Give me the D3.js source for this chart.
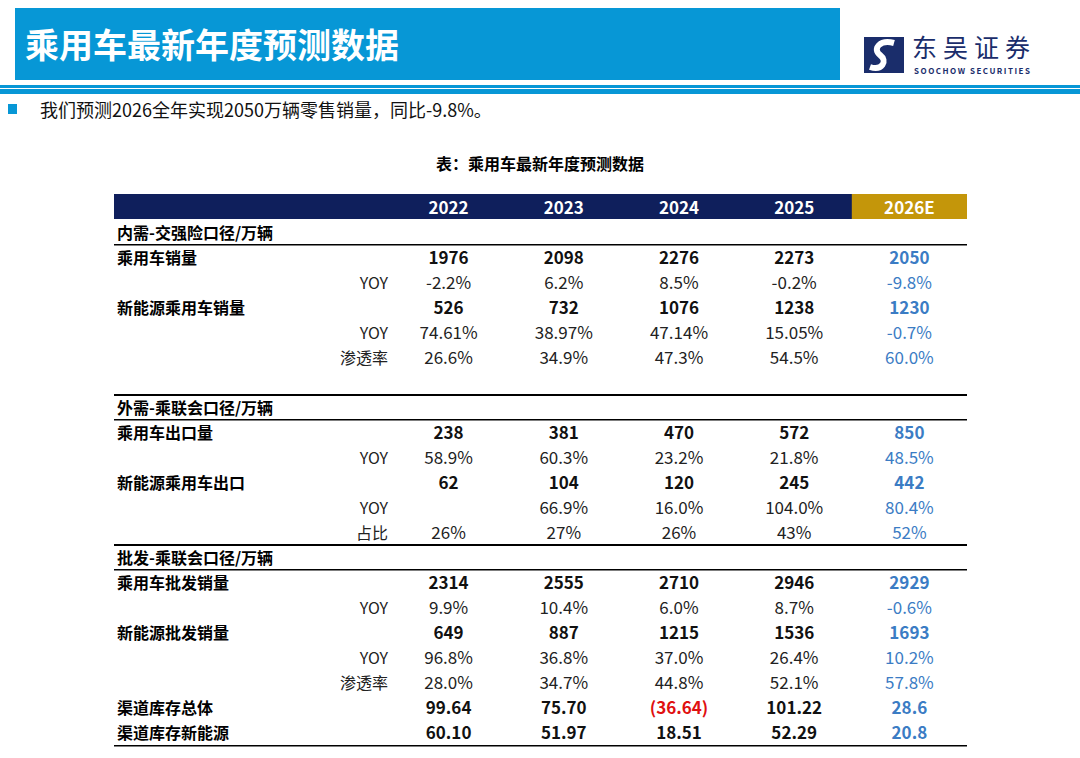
<!DOCTYPE html>
<meta charset="utf-8">
<script src="https://d3js.org/d3.v7.min.js"></script>
<body style="margin:0;background:#fff">
<div id="chart"></div>
<script>
// column headers
var years = ["2022", "2023", "2024", "2025", "2026E"];

// sections and rows: [label, sublabel, bold, values]
var domestic = [
  ["乘用车销量", "", true, ["1976", "2098", "2276", "2273", "2050"]],
  ["", "YOY", false, ["-2.2%", "6.2%", "8.5%", "-0.2%", "-9.8%"]],
  ["新能源乘用车销量", "", true, ["526", "732", "1076", "1238", "1230"]],
  ["", "YOY", false, ["74.61%", "38.97%", "47.14%", "15.05%", "-0.7%"]],
  ["", "渗透率", false, ["26.6%", "34.9%", "47.3%", "54.5%", "60.0%"]]
];
var exportRows = [
  ["乘用车出口量", "", true, ["238", "381", "470", "572", "850"]],
  ["", "YOY", false, ["58.9%", "60.3%", "23.2%", "21.8%", "48.5%"]],
  ["新能源乘用车出口", "", true, ["62", "104", "120", "245", "442"]],
  ["", "YOY", false, ["", "66.9%", "16.0%", "104.0%", "80.4%"]],
  ["", "占比", false, ["26%", "27%", "26%", "43%", "52%"]]
];
var wholesale = [
  ["乘用车批发销量", "", true, ["2314", "2555", "2710", "2946", "2929"]],
  ["", "YOY", false, ["9.9%", "10.4%", "6.0%", "8.7%", "-0.6%"]],
  ["新能源批发销量", "", true, ["649", "887", "1215", "1536", "1693"]],
  ["", "YOY", false, ["96.8%", "36.8%", "37.0%", "26.4%", "10.2%"]],
  ["", "渗透率", false, ["28.0%", "34.7%", "44.8%", "52.1%", "57.8%"]],
  ["渠道库存总体", "", true, ["99.64", "75.70", "(36.64)", "101.22", "28.6"]],
  ["渠道库存新能源", "", true, ["60.10", "51.97", "18.51", "52.29", "20.8"]]
];
var sections = [
  {title: "内需-交强险口径/万辆", rows: domestic, top: 221},
  {title: "外需-乘联会口径/万辆", rows: exportRows, top: 396},
  {title: "批发-乘联会口径/万辆", rows: wholesale, top: 546}
];

var W = 1080, H = 758, rowH = 25;
var svg = d3.select("#chart").append("svg").attr("width", W).attr("height", H)
  .style("font-family", "'Noto Sans CJK SC', 'Liberation Sans', sans-serif");

// header
svg.append("rect").attr("x", 15).attr("y", 8).attr("width", 825).attr("height", 72).attr("fill", "#0797d6");
svg.append("text").attr("x", 25).attr("y", 58).attr("fill", "#fff").attr("font-size", 34).attr("font-weight", 700).text("乘用车最新年度预测数据");
svg.append("rect").attr("x", 0).attr("y", 85).attr("width", W).attr("height", 3).attr("fill", "#0797d6");
svg.append("rect").attr("x", 0).attr("y", 89).attr("width", W).attr("height", 5).attr("fill", "#0797d6");

// logo
var lg = svg.append("g").attr("transform", "translate(864,37)");
lg.append("rect").attr("width", 40).attr("height", 36).attr("fill", "#1a2d6b");
lg.append("path").attr("d", "M30,6 C16,2 8,12 16,18 C24,24 18,34 6,30").attr("stroke", "#fff").attr("stroke-width", 6).attr("fill", "none");
lg.append("text").attr("x", 48).attr("y", 20).attr("font-size", 25).attr("fill", "#1a2d6b").attr("textLength", 118).text("东吴证券");
lg.append("text").attr("x", 50).attr("y", 37).attr("font-size", 8).attr("font-weight", 700).attr("fill", "#1a2d6b").attr("textLength", 116).text("SOOCHOW SECURITIES");

// bullet line
svg.append("rect").attr("x", 8).attr("y", 104).attr("width", 9).attr("height", 10).attr("fill", "#0797d6");
svg.append("text").attr("x", 40).attr("y", 117).attr("font-size", 18).attr("fill", "#111")
  .attr("font-family", "'Noto Sans CJK SC', 'Liberation Serif', serif").text("我们预测2026全年实现2050万辆零售销量，同比-9.8%。");

svg.append("text").attr("x", 540).attr("y", 170).attr("text-anchor", "middle").attr("font-size", 16).attr("font-weight", 700).text("表：乘用车最新年度预测数据");

// table
var x0 = 114, x1 = 967;
var x = d3.scaleBand().domain(years).range([391, 967]);
var hdrTop = 194;
svg.append("rect").attr("x", x0).attr("y", hdrTop).attr("width", x1 - x0).attr("height", 25).attr("fill", "#0f1f5c");
svg.append("rect").attr("x", x("2026E")).attr("y", hdrTop).attr("width", x.bandwidth()).attr("height", 25).attr("fill", "#c4960a");
svg.selectAll(".yr").data(years).join("text")
  .attr("x", d => x(d) + x.bandwidth() / 2).attr("y", hdrTop + 20)
  .attr("text-anchor", "middle").attr("font-size", 17).attr("font-weight", 700).attr("fill", "#fff").text(d => d);

sections.forEach(function(s, si) {
  var t = s.top;
  if (si > 0) {
    svg.append("rect").attr("x", x0).attr("y", t - 2).attr("width", x1 - x0).attr("height", 2).attr("fill", "#000");
  }
  svg.append("text").attr("x", x0 + 3).attr("y", t + 18).attr("font-size", 16).attr("font-weight", 700).text(s.title);
  svg.append("rect").attr("x", x0).attr("y", t + 23).attr("width", x1 - x0).attr("height", 1.5).attr("fill", "#000");
  var g = svg.append("g").attr("transform", "translate(0," + (t + 24) + ")");
  var rows = g.selectAll("g").data(s.rows).join("g").attr("transform", (d, i) => "translate(0," + (i * rowH) + ")");
  rows.append("text").attr("x", x0 + 3).attr("y", 19).attr("font-size", 16).attr("font-weight", 700).text(d => d[0]);
  rows.append("text").attr("x", 388).attr("y", 19).attr("text-anchor", "end").attr("font-size", 16).attr("fill", "#222").text(d => d[1]);
  rows.each(function(d) {
    d3.select(this).selectAll(".v").data(d[3].map((v, j) => ({v: v, y: years[j], b: d[2]}))).join("text")
      .attr("x", c => x(c.y) + x.bandwidth() / 2).attr("y", 19)
      .attr("text-anchor", "middle").attr("font-size", 17)
      .attr("font-weight", c => c.b ? 700 : 400)
      .attr("fill", c => c.y === "2026E" ? "#3b7cc4" : (c.v.charAt(0) === "(" ? "#e01010" : (c.b ? "#111" : "#222")))
      .text(c => c.v);
  });
});
svg.append("rect").attr("x", x0).attr("y", 745).attr("width", x1 - x0).attr("height", 1.5).attr("fill", "#000");
</script>
</body>
